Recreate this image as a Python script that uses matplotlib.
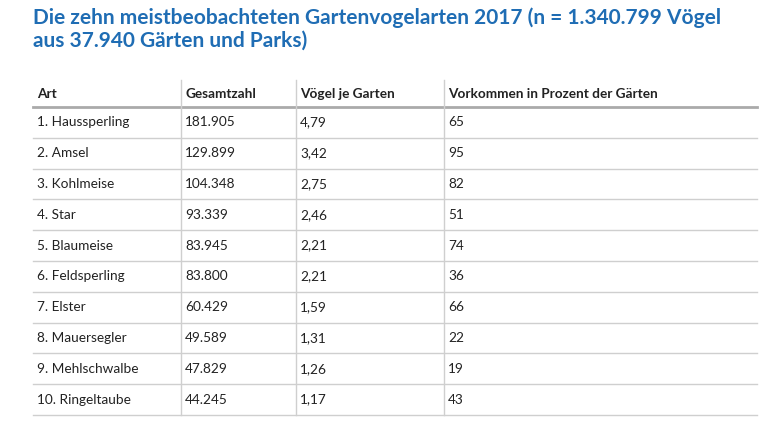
import matplotlib.pyplot as plt
from matplotlib.lines import Line2D

title = "Die zehn meistbeobachteten Gartenvogelarten 2017 (n = 1.340.799 Vögel\naus 37.940 Gärten und Parks)"
columns = ["Art", "Gesamtzahl", "Vögel je Garten", "Vorkommen in Prozent der Gärten"]
species = ["1. Haussperling", "2. Amsel", "3. Kohlmeise", "4. Star", "5. Blaumeise",
           "6. Feldsperling", "7. Elster", "8. Mauersegler", "9. Mehlschwalbe", "10. Ringeltaube"]
totals = ["181.905", "129.899", "104.348", "93.339", "83.945",
          "83.800", "60.429", "49.589", "47.829", "44.245"]
per_garden = ["4,79", "3,42", "2,75", "2,46", "2,21", "2,21", "1,59", "1,31", "1,26", "1,17"]
percent = ["65", "95", "82", "51", "74", "36", "66", "22", "19", "43"]

W, H = 768, 432
fig = plt.figure(figsize=(W / 100, H / 100), dpi=100)
plt.rcParams["font.family"] = "Lato"

def fx(x):
    return x / W

def fy(y):
    return 1 - y / H

fig.text(fx(33), fy(7), title, color="#1f6db4", fontsize=15, fontweight="bold",
         va="top", ha="left", linespacing=1.2)

col_x = [33, 181, 296, 444]
left, right = 33, 757
header_top, header_bot = 80, 107
row_h = 30.8

for cx, name in zip(col_x, columns):
    fig.text(fx(cx + 4), fy(94), name, fontsize=9.8, fontweight="bold",
             color="#222222", va="center", ha="left")

rows = list(zip(species, totals, per_garden, percent))
for i, row in enumerate(rows):
    yc = header_bot + row_h * (i + 0.5)
    for cx, val in zip(col_x, row):
        fig.text(fx(cx + 4), fy(yc), val, fontsize=9.8, color="#222222",
                 va="center", ha="left")
    yl = header_bot + row_h * (i + 1)
    fig.add_artist(Line2D([fx(left), fx(right)], [fy(yl), fy(yl)], color="#cfcfcf", lw=1))

fig.add_artist(Line2D([fx(left), fx(right)], [fy(header_bot), fy(header_bot)], color="#aaaaaa", lw=2))
bottom = header_bot + row_h * len(rows)
for cx in col_x[1:]:
    fig.add_artist(Line2D([fx(cx), fx(cx)], [fy(header_top), fy(bottom)], color="#cfcfcf", lw=1))

fig.savefig("out.png", dpi=100)
